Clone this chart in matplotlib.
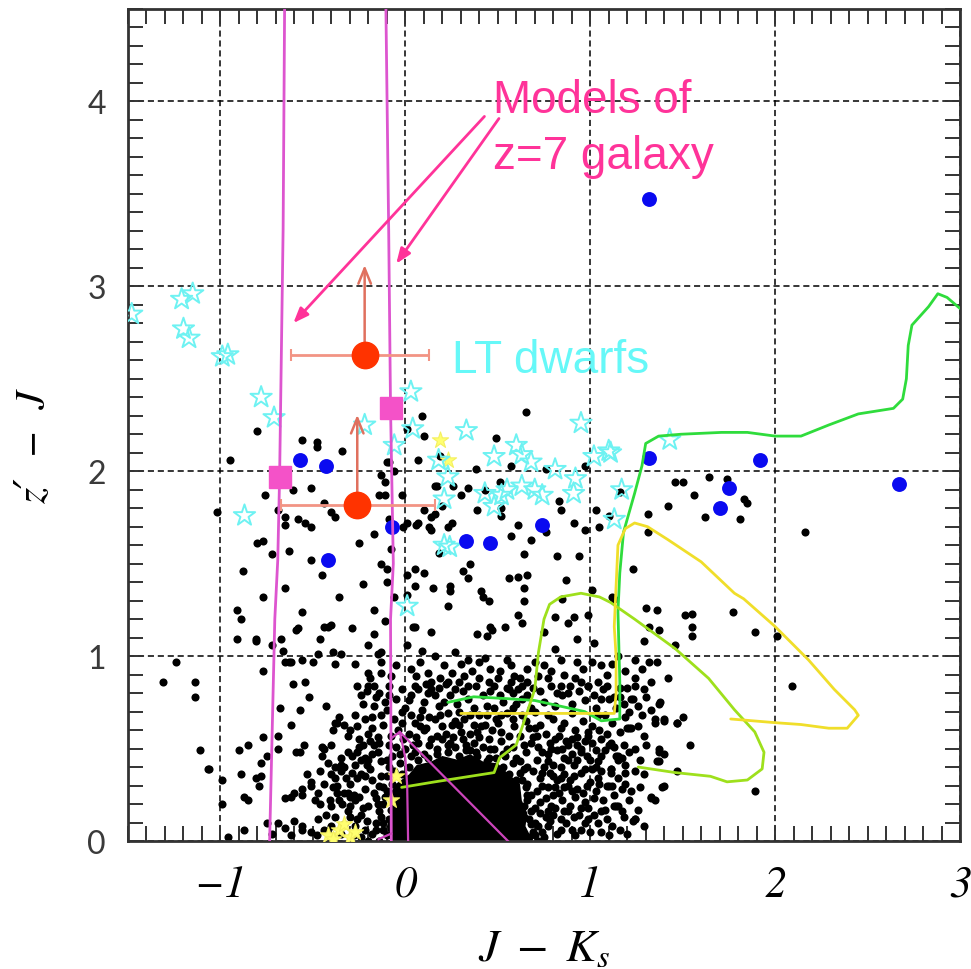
import numpy as np
import matplotlib
matplotlib.use("Agg")
import matplotlib.pyplot as plt
from matplotlib.ticker import MultipleLocator

# field sources (J-Ks, z'-J)
field_stars = [
    (-0.80,2.22),(-0.95,2.06),(-1.02,1.78),(-0.56,2.17),(-0.48,2.16),(-0.48,2.13),(-0.34,2.11),(-0.76,1.87),
    (-0.61,1.90),(-0.51,1.91),(-0.44,1.83),(-0.40,1.78),(-0.38,1.75),(-0.69,1.79),(-0.65,1.75),(-0.58,1.74),
    (-0.54,1.72),(-0.51,1.70),(-0.65,1.71),(-0.80,1.61),(-0.77,1.62),(-0.63,1.57),(-0.25,1.61),(-0.17,1.66),
    (-0.14,1.87),(-0.13,1.98),(-0.11,1.94),(-0.09,2.05),(-0.02,1.87),(0.09,2.30),(0.01,2.23),(0.10,2.19),
    (0.07,2.06),(0.16,1.92),(0.10,1.79),(0.14,1.75),(0.07,1.72),(0.13,1.70),(0.01,1.72),(0.19,2.08),
    (0.18,1.56),(-0.09,1.74),
    (0.65,2.32),(0.49,2.18),(0.57,2.03),(0.76,2.01),(0.97,2.03),(0.38,2.01),(-0.10,2.05),(-0.06,2.00),
    (0.17,1.92),(0.26,1.92),(0.34,1.91),(0.43,1.90),(0.51,1.94),(0.30,1.87),(-0.11,1.87),(0.52,1.80),
    (0.52,1.76),(0.39,1.79),(0.20,1.81),(0.16,1.77),(0.25,1.72),(0.23,1.70),(0.14,1.68),(0.06,1.71),
    (-0.01,1.70),(0.83,1.84),(0.84,1.79),(0.91,1.72),(0.61,1.71),(0.76,1.67),(0.57,1.65),(0.68,1.63),
    (0.97,1.68),(1.03,1.79),(1.05,1.70),(1.10,1.76),(1.16,1.89),(1.42,1.81),(1.31,1.77),(1.31,1.67),
    (1.46,1.94),(0.35,1.50),(0.31,1.46),(0.34,1.42),(0.56,1.42),(0.64,1.55),(0.82,1.54),(0.94,1.54),
    (1.23,1.47),(0.24,1.38),(0.24,1.35),(0.41,1.35),(0.42,1.32),(0.45,1.30),(0.61,1.43),(0.66,1.44),
    (0.64,1.37),(0.64,1.30),(0.87,1.41),(0.85,1.31),(1.01,1.36),(0.99,1.22),(1.12,1.32),(0.91,1.21),
    (0.81,1.21),(0.61,1.22),(0.46,1.16),(0.23,1.27),(0.05,1.38),(0.01,1.33),(0.01,1.44),(0.05,1.47),
    (0.10,1.45),(0.15,1.37),(-0.10,1.47),(-0.10,1.40),(0.04,1.16),(-0.08,1.58),(1.30,1.26),(1.36,1.25),
    (1.64,1.97),(1.74,1.96),(1.50,1.94),(1.56,1.87),(1.83,1.85),(1.85,1.83),(1.62,1.75),(1.81,1.74),
    (2.16,1.67),(1.51,1.22),(1.55,1.23),(1.77,1.24),(1.13,1.31),
    (1.55,1.16),(1.55,1.11),(1.32,1.16),(1.37,1.14),(1.29,1.08),(1.46,1.06),(1.89,1.13),(2.01,1.11),
    (1.28,0.93),(1.32,0.97),(1.36,0.97),(1.24,0.88),(1.33,0.86),(1.42,0.88),(2.09,0.84),(1.23,0.77),
    (1.37,0.74),(1.35,0.66),(1.40,0.65),(1.47,0.64),(1.50,0.67),(1.21,0.61),(1.54,0.52),(1.10,0.52),
    (1.14,0.46),(1.37,0.48),(1.40,0.47),(1.36,0.43),(1.47,0.38),(1.11,0.39),(1.09,0.30),(1.12,0.30),
    (1.39,0.29),(1.33,0.24),(1.35,0.22),(1.14,0.19),(1.23,0.11),(1.16,0.06),(1.89,0.27),
    (-0.89,1.20),(-0.91,1.09),(-0.81,1.09),(-0.72,1.06),(-0.67,1.09),(-0.66,1.03),(-0.65,0.97),(-0.62,0.97),
    (-0.59,1.14),(-0.56,0.98),(-0.50,0.97),(-0.46,1.09),(-0.47,1.01),(-0.44,1.16),(-0.40,1.17),(-0.39,1.02),
    (-0.38,0.96),(-0.35,1.01),(-0.27,0.96),(-0.20,1.06),(-0.17,1.12),(-0.11,1.19),(-0.15,1.01),(-0.13,1.02),
    (-1.24,0.97),(-1.31,0.86),(-1.14,0.86),(-1.14,0.78),(-1.11,0.49),(-1.07,0.39),(-1.06,0.39),(-0.99,0.33),
    (-0.99,0.20),(-0.96,0.02),(-0.77,0.92),(-0.61,0.85),(-0.54,0.86),(-0.52,0.78),(-0.68,0.72),(-0.57,0.71),
    (-0.43,0.73),(-0.62,0.63),(-0.69,0.57),(-0.77,0.56),(-0.69,0.50),(-0.75,0.46),(-0.85,0.52),(-0.90,0.49),
    (-0.89,0.36),(-0.81,0.34),(-0.79,0.30),(-0.78,0.42),(-0.87,0.24),(-0.85,0.22),(-0.87,0.06),(-0.75,0.10),
    (-0.69,0.10),(-0.65,0.07),(-0.60,0.11),(-0.56,0.06),(-0.51,0.30),(-0.65,0.23),(-0.60,0.26),(-0.56,0.25),
    (-0.47,0.26),(-0.45,0.51),(-0.45,0.46),(-0.55,0.52),(-0.59,0.48),(-0.57,0.48),(-0.37,0.64),(-0.33,0.63),
    (-0.26,0.62),(-0.30,0.60),(-0.39,0.60),(-0.38,0.40),(-0.40,0.36),(-0.35,0.38),(-0.32,0.34),(-0.39,0.29),
    (-0.37,0.26),(-0.41,0.22),(-0.49,0.22),(-0.21,0.81),(-0.23,0.74),(-0.20,0.84),(-0.16,0.78),(-0.19,0.88),
    (-0.13,0.91),(-0.13,0.68),(-0.20,0.58),(-0.17,0.52),(-0.23,0.52),(-0.24,0.44),(-0.22,0.45),(-0.27,0.41),
    (-0.31,0.26),(-0.28,0.25),(-0.11,0.75),(-0.09,0.84),
    (0.01,1.06),(0.05,1.16),(0.14,1.13),(0.39,1.12),(0.44,1.11),(0.47,1.14),(0.54,1.16),(0.63,1.18),
    (0.88,1.18),(0.93,1.09),(1.02,1.07),(0.75,1.13),(0.81,1.04),(0.09,1.03),(0.16,1.00),(0.27,1.02),
    (0.34,0.98),(0.40,0.97),(0.46,0.93),(0.55,0.98),(0.59,0.89),(0.66,0.93),(0.75,0.95),(0.84,0.98),
    (0.93,0.97),(1.06,0.95),(1.15,1.00),(1.24,0.98),(0.12,0.91),(0.19,0.88),(0.22,0.85),(0.07,0.82),
    (0.16,0.79),(0.27,0.82),(0.32,0.89),(0.38,0.84),(0.48,0.84),(0.51,0.79),(0.61,0.82),(0.84,0.84),
    (0.92,0.88),(0.99,0.84),(1.02,0.79),(1.10,0.77),(1.22,0.77),(1.29,0.82),(1.20,0.61),(1.24,0.50),
    (1.15,0.46),(1.19,0.41),(1.24,0.38),(1.11,0.37),(1.10,0.30),(1.15,0.19),(1.24,0.12),(1.06,0.16),
    (1.02,0.23),(0.97,0.10),(0.90,0.06),(0.84,0.12),(0.77,0.16),(0.88,0.30),(0.90,0.27),(0.97,0.39),
    (0.88,0.44),(0.84,0.40),(0.74,0.37),(0.74,0.48),(0.79,0.50),(0.95,0.50),(0.99,0.59),(0.92,0.60),
    (0.84,0.61),(1.11,0.53),(1.06,0.46),
    (-0.81,1.08),(-0.58,1.15),(-0.42,1.16),(-0.63,0.97),(-0.36,0.67),(-0.44,0.50),(-0.78,0.35),(-0.62,0.24),
    (-0.56,0.28),(-0.51,0.32),(-0.38,0.34),(-0.35,0.41),(-0.31,0.48),(-0.25,0.55),(-0.22,0.66),(-0.38,0.64),
    (-0.24,0.79),(-0.17,0.84),(-0.26,0.84),(-0.20,0.91),(-0.13,0.97),(-0.09,0.79),(-0.17,0.73),(-0.18,0.67),
    (-0.18,0.61),(-0.15,0.56),(-0.26,0.48),(-0.20,0.44),(-0.13,0.43),(-0.29,0.37),(-0.26,0.34),(-0.33,0.26),
    (-0.30,0.24),(-0.40,0.19),(-0.47,0.12),(-0.56,0.08),(-0.51,0.05),(-0.31,0.16),(-0.26,0.12),(-0.20,0.19),
    (-0.17,0.26),(-0.18,0.33),(-0.14,0.30),(-0.12,0.20),(-0.16,0.10),(-0.22,0.06),(-0.35,0.04),(-0.40,0.08),
    (-0.02,0.82),(0.05,0.84),(0.14,0.82),(0.23,0.86),(0.34,0.84),(0.45,0.86),(0.56,0.82),(0.63,0.84),
    (0.79,0.84),(0.88,0.80),(0.99,0.84),(1.06,0.77),(1.24,0.84),(1.38,0.75),(1.47,0.64),(1.40,0.66),
    (1.35,0.64),(1.22,0.61),(1.37,0.50),(1.37,0.43),(1.33,0.23),(1.40,0.30),(1.15,0.44),(1.11,0.39),
    (1.17,0.28),(1.04,0.34),(1.13,0.19),(1.02,0.14),(1.24,0.12),(0.95,0.06),(1.06,0.05),(0.88,0.16),
    (0.92,0.24),(0.84,0.34),(0.95,0.48),(0.99,0.57),(0.88,0.52),(0.81,0.55),(0.77,0.43),(0.74,0.30),
    (0.79,0.19),(0.72,0.08),(0.84,0.06),(0.64,0.52),(0.70,0.61),(0.77,0.68),(0.56,0.57),(0.45,0.55),
    (0.38,0.48),(0.41,0.62),(0.30,0.59),(0.23,0.52),(0.14,0.55),(0.05,0.48),(0.16,0.66),(0.05,0.64),
    (-0.02,0.70),(0.29,0.70),(0.52,0.68),(0.63,0.77),(0.34,0.77),(0.21,0.75),
    (0.00,0.50),(0.06,0.56),(0.10,0.60),(0.20,0.62),(0.26,0.56),(0.33,0.52),(0.40,0.56),(0.48,0.50),
    (0.55,0.50),(0.60,0.45),(0.66,0.40),(0.63,0.33),(0.68,0.25),(0.70,0.18),(0.70,0.10),(0.70,0.03),
    (0.77,0.08),(0.80,0.25),(0.82,0.33),(0.90,0.47),(0.87,0.54),(0.93,0.44),(1.00,0.44),(0.98,0.30),
    (1.03,0.40),(1.05,0.60),(1.08,0.68),(1.14,0.72),(1.18,0.52),(1.16,0.83),(0.70,0.70),(0.58,0.72),
    (0.48,0.72),(0.40,0.68),(0.27,0.65),(0.10,0.75),(0.02,0.76),(-0.04,0.60),(-0.07,0.46),(-0.10,0.35),
    (-0.88,1.46),(-0.77,1.32),(-0.65,1.37),(-0.56,1.24),(-0.45,1.44),(-0.36,1.32),(-0.29,1.15),(-0.23,1.39),
    (-0.17,1.25),(-0.13,1.50),(-0.06,1.32),(-0.72,1.55),(-0.51,1.52),(-0.91,1.25),
]

# crowded part of the main sequence (0 < z'-J < 1)
crowded = [
    (0.03,0.93),(0.08,0.97),(0.21,0.95),(0.25,0.91),(0.30,0.96),(0.36,0.92),(0.43,0.99),(0.51,0.92),
    (0.57,0.95),(0.62,0.88),(0.70,0.97),(0.72,0.89),(0.79,0.92),(0.86,0.90),(0.96,0.93),(1.01,0.97),
    (1.09,0.90),(1.12,0.96),(1.19,0.92),(-0.05,0.95),(-0.08,0.89),
    (-0.05,0.77),(0.00,0.72),(0.03,0.79),(0.09,0.71),(0.12,0.80),(0.18,0.73),(0.24,0.79),(0.28,0.74),
    (0.31,0.81),(0.37,0.72),(0.42,0.79),(0.44,0.73),(0.53,0.75),(0.58,0.80),(0.60,0.74),(0.66,0.79),
    (0.68,0.72),(0.73,0.81),(0.75,0.75),(0.81,0.73),(0.85,0.79),(0.90,0.74),(0.94,0.81),(0.97,0.76),
    (1.03,0.72),(1.07,0.82),(1.13,0.78),(1.18,0.74),(1.20,0.83),(1.26,0.73),(1.30,0.78),(1.33,0.71),
    (-0.14,0.80),(-0.10,0.71),(0.46,0.81),(0.57,0.86),(0.14,0.86),
    (-0.12,0.63),(-0.08,0.57),(-0.02,0.64),(0.02,0.58),(0.08,0.67),(0.11,0.61),(0.19,0.68),(0.22,0.58),
    (0.25,0.63),(0.32,0.66),(0.35,0.58),(0.37,0.63),(0.44,0.68),(0.47,0.60),(0.50,0.64),(0.55,0.69),
    (0.59,0.62),(0.62,0.57),(0.65,0.65),(0.69,0.56),(0.73,0.63),(0.76,0.58),(0.80,0.66),(0.83,0.57),
    (0.86,0.64),(0.90,0.69),(0.93,0.56),(0.96,0.65),(1.01,0.62),(1.04,0.68),(1.09,0.58),(1.12,0.64),
    (1.16,0.59),(1.19,0.67),(1.26,0.62),(1.29,0.57),(-0.27,0.68),(-0.31,0.57),
    (-0.25,0.51),(-0.21,0.41),(-0.18,0.47),(-0.14,0.53),(-0.10,0.44),(-0.05,0.51),(-0.03,0.42),(0.03,0.46),
    (0.07,0.53),(0.10,0.47),(0.17,0.50),(0.20,0.55),(0.27,0.51),(0.31,0.55),(0.35,0.49),(0.42,0.51),
    (0.45,0.45),(0.52,0.54),(0.54,0.46),(0.58,0.51),(0.62,0.43),(0.65,0.48),(0.68,0.53),(0.71,0.44),
    (0.72,0.51),(0.77,0.47),(0.80,0.41),(0.82,0.49),(0.86,0.45),(0.91,0.41),(0.93,0.52),(0.98,0.46),
    (1.01,0.53),(1.04,0.43),(1.08,0.49),(1.13,0.51),(1.17,0.45),(1.21,0.48),(1.27,0.44),(1.30,0.52),
    (-0.35,0.45),(-0.40,0.52),
    (-0.30,0.31),(-0.27,0.22),(-0.24,0.36),(-0.22,0.28),(-0.19,0.39),(-0.16,0.23),(-0.13,0.35),(-0.10,0.27),
    (-0.06,0.38),(0.62,0.37),(0.66,0.31),(0.69,0.38),(0.66,0.22),(0.71,0.27),(0.73,0.34),(0.76,0.23),
    (0.78,0.37),(0.81,0.29),(0.85,0.22),(0.86,0.36),(0.89,0.33),(0.93,0.28),(0.95,0.37),(0.97,0.21),
    (1.00,0.32),(1.03,0.27),(1.06,0.38),(1.07,0.22),(1.13,0.25),(1.15,0.34),(1.19,0.31),(1.21,0.22),
    (1.27,0.29),(1.29,0.36),(-0.44,0.31),(-0.36,0.22),(-0.46,0.38),(-0.53,0.36),
    (-0.33,0.09),(-0.30,0.19),(-0.28,0.03),(-0.24,0.14),(-0.21,0.11),(-0.18,0.04),(-0.14,0.16),(-0.12,0.06),
    (-0.09,0.12),(0.64,0.19),(0.67,0.12),(0.69,0.05),(0.73,0.15),(0.75,0.02),(0.78,0.11),(0.81,0.18),
    (0.82,0.04),(0.87,0.10),(0.89,0.19),(0.92,0.03),(0.94,0.14),(0.99,0.18),(1.00,0.05),(1.04,0.10),
    (1.09,0.12),(1.10,0.03),(1.18,0.13),(1.20,0.04),(1.26,0.17),(1.29,0.08),(-0.43,0.14),(-0.48,0.03),
    (-0.38,0.13),(-0.62,0.03),(-0.72,0.04),
    (-0.10,0.03),(-0.12,0.10),(-0.08,0.17),(-0.11,0.24),(-0.07,0.31),(-0.02,0.36),(0.02,0.40),(0.07,0.44),
    (0.12,0.45),(0.17,0.47),(0.23,0.48),(0.29,0.46),(0.33,0.49),(0.39,0.46),(0.44,0.43),(0.49,0.45),
    (0.53,0.40),(0.56,0.36),(0.60,0.33),(0.60,0.26),(0.61,0.20),(0.64,0.13),(0.63,0.06),(0.67,0.02),
    (-0.14,0.00),(-0.16,0.06),(-0.13,0.13),(-0.15,0.20),(-0.12,0.29),(-0.09,0.40),(-0.03,0.47),(0.04,0.52),
    (0.13,0.52),(0.24,0.53),(0.37,0.53),(0.46,0.50),(0.53,0.47),(0.58,0.42),(0.64,0.39),(0.65,0.29),
    (0.66,0.25),(0.68,0.16),(0.68,0.09),(0.72,0.00),
    (0.74,0.05),(0.76,0.13),(0.73,0.21),(0.77,0.29),(0.75,0.40),(0.80,0.35),(0.83,0.26),(0.80,0.14),
    (0.86,0.16),(0.86,0.29),(0.91,0.35),(0.91,0.13),(0.95,0.18),(0.96,0.26),(0.99,0.12),(1.01,0.39),
    (1.05,0.31),(1.08,0.17),(1.12,0.08),(1.17,0.16),(1.19,0.37),(1.22,0.27),(1.06,0.55),(1.03,0.49),
    (0.97,0.54),(0.90,0.55),(0.85,0.50),(0.78,0.53),(0.71,0.57),(0.67,0.61),(0.63,0.68),(0.58,0.66),
    (0.52,0.59),(0.49,0.66),(0.43,0.63),(0.39,0.59),(0.35,0.68),(0.29,0.63),(0.23,0.69),(0.17,0.57),
    (0.13,0.67),(0.08,0.62),(0.03,0.68),(-0.01,0.55),(-0.06,0.66),(-0.09,0.52),(-0.15,0.48),(-0.19,0.54),
    (-0.22,0.35),(-0.25,0.24),(-0.23,0.18),(-0.27,0.08),(-0.24,0.02),(-0.20,0.00),(-0.30,0.13),(-0.34,0.20),
    (-0.37,0.30),(-0.33,0.40),(-0.29,0.46),(-0.42,0.42),(-0.46,0.20),(-0.44,0.06),
    (0.06,0.89),(0.11,0.85),(0.18,0.83),(0.29,0.86),(0.40,0.88),(0.50,0.88),(0.55,0.83),(0.66,0.86),
    (0.69,0.83),(0.77,0.88),(0.82,0.80),(0.89,0.84),(0.95,0.86),(1.04,0.86),(1.09,0.84),(1.16,0.78),
    (1.21,0.70),(1.28,0.68),
]

# saturated core of the field distribution
core_outline = [(-0.08,0.0),(-0.10,0.08),(-0.07,0.16),(-0.10,0.23),(-0.05,0.31),(0.02,0.36),(0.06,0.41),
                (0.14,0.43),(0.20,0.46),(0.28,0.44),(0.35,0.47),(0.42,0.43),(0.50,0.42),(0.56,0.36),
                (0.62,0.31),(0.63,0.22),(0.66,0.15),(0.65,0.08),(0.69,0.0)]

# z'-J dropouts
blue_jk = [-0.57,-0.43,-0.07,-0.42,0.33,0.46,0.74,1.32,1.32,1.92,1.75,1.70,2.67]
blue_zj = [2.06,2.03,1.70,1.52,1.62,1.61,1.71,3.47,2.07,2.06,1.91,1.80,1.93]

# LT dwarfs
lt_jk = [-1.48,-1.21,-1.15,-1.20,-1.17,-0.96,-0.99,-0.78,-0.71,-0.87,-0.22,0.03,-0.06,0.04,0.18,0.21,0.21,
         0.33,0.48,0.60,0.63,0.68,0.55,0.52,0.48,0.43,0.63,0.70,0.74,0.81,0.92,0.91,0.95,1.02,1.11,1.17,
         1.13,0.24,0.01,0.23,1.43,1.10]
lt_zj = [2.85,2.93,2.96,2.77,2.72,2.63,2.62,2.40,2.29,1.76,2.25,2.43,2.14,2.23,2.06,1.85,1.60,
         2.22,2.08,2.14,2.09,2.05,1.90,1.87,1.81,1.88,1.92,1.90,1.87,2.01,1.96,1.88,2.26,2.08,2.10,1.90,
         1.74,1.59,1.27,1.97,2.17,2.11]

# other (yellow) stars
yel_jk = [-0.42,-0.36,-0.30,-0.33,-0.27,-0.39,-0.08,-0.05,0.19,0.23]
yel_zj = [0.03,0.06,0.02,0.09,0.05,0.01,0.22,0.35,2.17,2.06]

# z=7 galaxy model tracks
model1_jk = [-0.653,-0.661,-0.680,-0.690,-0.706,-0.734]
model1_zj = [4.5,3.31,1.97,1.52,1.20,0.0]
model2_jk = [-0.105,-0.090,-0.080,-0.065,-0.080,-0.076]
model2_zj = [4.5,3.30,2.34,1.50,1.20,0.0]
inner_a = [(-0.07,0.56),(-0.03,0.59),(0.0,0.45),(0.01,0.30),(0.015,0.0)]
inner_b = [(-0.03,0.59),(0.555,0.0)]
inner_c = [(-0.145,0.01),(-0.076,0.04)]
model_jk = [-0.68,-0.08]
model_zj = [1.97,2.34]

# candidates with errors / lower limits
cand_jk = [-0.22,-0.26]
cand_zj = [2.63,1.82]
cand_xerr = [[0.40,0.41],[0.35,0.42]]
cand_limit = [3.13,2.32]

# evolutionary tracks of galaxies
green_track = [(0.23,0.75),(0.37,0.78),(0.55,0.77),(0.70,0.76),(0.88,0.72),(0.97,0.70),(1.06,0.65),
               (1.16,0.66),(1.16,0.86),(1.15,1.24),(1.16,1.45),(1.18,1.67),(1.24,1.88),(1.28,2.03),
               (1.30,2.15),(1.37,2.19),(1.49,2.20),(1.71,2.21),(1.85,2.21),(2.0,2.19),(2.14,2.19),
               (2.29,2.25),(2.45,2.31),(2.64,2.34),(2.69,2.39),(2.71,2.50),(2.72,2.68),(2.74,2.79),
               (2.83,2.89),(2.88,2.96),(2.93,2.94),(3.0,2.88)]
lime_track = [(-0.02,0.29),(0.16,0.32),(0.48,0.37),(0.51,0.45),(0.60,0.52),(0.65,0.67),(0.70,0.82),
              (0.72,1.02),(0.75,1.20),(0.78,1.28),(0.84,1.32),(0.95,1.34),(1.05,1.32),(1.11,1.29),
              (1.24,1.20),(1.46,1.04),(1.64,0.88),(1.78,0.71),(1.89,0.59),(1.94,0.48),(1.93,0.39),
              (1.85,0.33),(1.74,0.32),(1.65,0.35),(1.46,0.37),(1.26,0.40)]
yellow_track = [(0.30,0.69),(0.70,0.69),(1.13,0.69),(1.14,0.80),(1.14,1.00),(1.13,1.16),(1.15,1.60),
                (1.19,1.69),(1.24,1.72),(1.31,1.70),(1.42,1.63),(1.60,1.51),(1.78,1.34),(1.83,1.31),
                (2.0,1.16),(2.18,0.98),(2.32,0.82),(2.43,0.71),(2.45,0.68),(2.39,0.61),(2.29,0.61),
                (2.14,0.63),(2.0,0.64),(1.76,0.66)]

fig = plt.figure(figsize=(9.71, 9.70), dpi=100)
ax = fig.add_axes([128/971, 128/970, 832/971, 832/970])
ax.set_xlim(-1.5, 3.0)
ax.set_ylim(0, 4.5)

ax.grid(True, which='major', color='k', linestyle=(0, (4, 2.5)), linewidth=1.1, zorder=0)

# field population
ax.fill(*zip(*core_outline), color='k', lw=0, zorder=2)
fx, fy = zip(*(field_stars + crowded))
ax.scatter(fx, fy, s=34, c='k', lw=0, zorder=2)

ax.scatter(yel_jk, yel_zj, marker='*', s=150, c='#ffff70', edgecolors='#f4f060', lw=0.8, zorder=3)
ax.scatter(lt_jk, lt_zj, marker='*', s=260, facecolors='none', edgecolors='#6ef2f2', lw=1.4, zorder=4)
ax.scatter(blue_jk, blue_zj, s=115, c='#0a0af0', lw=0, zorder=5)

for track, col in ((green_track, '#2fdc3c'), (lime_track, '#9ee01c'), (yellow_track, '#f0de2a')):
    tx, ty = zip(*track)
    ax.plot(tx, ty, color=col, lw=2.0, zorder=6, solid_capstyle='round')

mcol = '#dd55cf'
ax.plot(model1_jk, model1_zj, color=mcol, lw=2.0, zorder=6)
ax.plot(model2_jk, model2_zj, color=mcol, lw=2.0, zorder=6)
for seg in (inner_a, inner_b, inner_c):
    sx, sy = zip(*seg)
    ax.plot(sx, sy, color='#cc44bb', lw=1.6, zorder=6)
ax.plot(model_jk, model_zj, ls='none', marker='s', ms=16, color='#f452c8', zorder=7)

ax.errorbar(cand_jk, cand_zj, xerr=cand_xerr, fmt='none', ecolor='#f29484', elinewidth=2,
            capsize=4, capthick=1.5, zorder=7)
for x0, y0, y1 in zip(cand_jk, cand_zj, cand_limit):
    ax.annotate('', xy=(x0, y1), xytext=(x0, y0),
                arrowprops=dict(arrowstyle='->,head_length=1.1,head_width=0.45', color='#e0705e', lw=1.8),
                zorder=7)
ax.plot(cand_jk, cand_zj, ls='none', marker='o', ms=19, color='#ff3300', zorder=8)

# labels
pink = '#ff3399'
ax.text(0.475, 3.64, 'Models of\nz=7 galaxy', color=pink, fontsize=33, family='Liberation Sans',
        ha='left', va='baseline', linespacing=1.36, zorder=9)
for tail, head in (((0.438, 3.93), (-0.616, 2.79)), ((0.515, 3.92), (-0.058, 3.11))):
    ax.annotate('', xy=head, xytext=tail,
                arrowprops=dict(arrowstyle='-|>,head_length=0.9,head_width=0.35', color=pink, lw=2),
                zorder=9)
ax.text(0.25, 2.537, 'LT dwarfs', color='#66f8f8', fontsize=33, family='Liberation Sans',
        ha='left', va='baseline', zorder=9)

# axes styling
ax.set_xticks([-1, 0, 1, 2, 3])
ax.set_xticklabels(['\u22121', '0', '1', '2', '3'], family='STIXGeneral', style='italic', fontsize=32)
ax.set_yticks([0, 1, 2, 3, 4])
ax.set_yticklabels(['0', '1', '2', '3', '4'], family='Lato', fontsize=23, color='#3a3a3a')
ax.xaxis.set_minor_locator(MultipleLocator(0.1))
ax.yaxis.set_minor_locator(MultipleLocator(0.1))
ax.tick_params(which='both', direction='in', top=True, right=True, length=11, width=1.4, color='#333333')
ax.tick_params(axis='x', pad=17)
ax.tick_params(axis='y', pad=16)
for sp in ax.spines.values():
    sp.set_linewidth(2)
    sp.set_color('#333333')

plt.rcParams['mathtext.fontset'] = 'stix'
fig.text(544/971, 1 - 961/970, r'$J\ -\ K_s$', fontsize=33, ha='center', va='baseline')
fig.text(34/971, 1 - 447/970, 'z\u2032  \u2212  J', family=['STIXGeneral', 'DejaVu Serif'],
         style='italic', fontsize=30, ha='center', va='center', rotation=90)

fig.savefig('out.png', dpi=100)
